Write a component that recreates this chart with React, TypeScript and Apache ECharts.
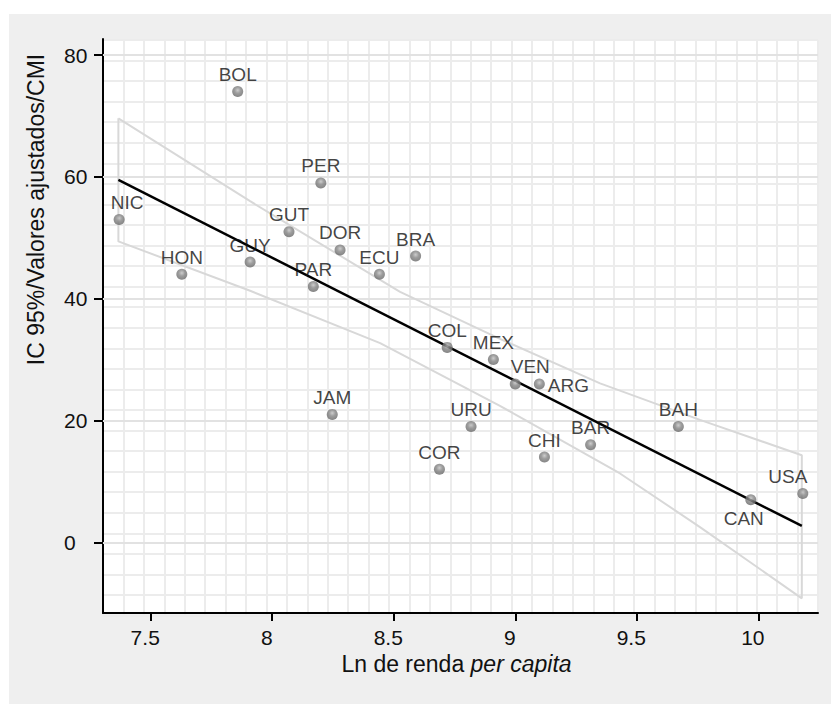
import React, { useEffect, useRef } from 'react';
import * as echarts from 'echarts';

// ---- data ----
const countries = ['BOL', 'PER', 'NIC', 'GUT', 'DOR', 'BRA', 'GUY', 'HON', 'ECU', 'PAR', 'COL', 'MEX', 'VEN', 'ARG', 'URU', 'BAH', 'BAR', 'CHI', 'COR', 'JAM', 'CAN', 'USA'];
const lnIncome = [7.858, 8.2, 7.37, 8.069, 8.279, 8.59, 7.909, 7.628, 8.441, 8.169, 8.72, 8.91, 9.0, 9.099, 8.818, 9.671, 9.31, 9.12, 8.688, 8.247, 9.969, 10.183];
const cmi = [74, 59, 53, 51, 48, 47, 46, 44, 44, 42, 32, 30, 26, 26, 19, 19, 16, 14, 12, 21, 7, 8];

const fitX = [7.367, 10.179];
const fitY = [59.5, 2.68];

const ciUpperX = [7.367, 7.909, 8.526, 8.937, 9.349, 9.76, 10.179];
const ciUpper = [69.6, 56.0, 41.1, 33.4, 26.1, 20.1, 14.3];
const ciLowerX = [7.367, 7.909, 8.444, 8.937, 9.431, 9.76, 10.179];
const ciLower = [49.4, 41.3, 32.7, 22.4, 11.3, 2.5, -9.2];

const xTicks = [7.5, 8, 8.5, 9, 9.5, 10];
const yTicks = [0, 20, 40, 60, 80];
const xRange = [7.3037, 10.2456];
const yRange = [-11.61, 82.63];

const xTitleA = 'Ln de renda ';
const xTitleB = 'per capita';
const yTitle = 'IC 95%/Valores ajustados/CMI';

// label placement tweaks (style only)
const labelTweaks: Record<string, any> = {
  NIC: { offset: [8, 0] },
  VEN: { offset: [15, 0] },
  ARG: { position: 'right', distance: 3, offset: [0, 2] },
  USA: { offset: [-15, 0] },
  CAN: { position: 'bottom', distance: 4, offset: [-7, 0] },
};

const FONT = 'Liberation Sans, Arial, sans-serif';

export default function App() {
  const ref = useRef<HTMLDivElement>(null);
  useEffect(() => {
    const chart = echarts.init(ref.current!, null, { renderer: 'svg' });

    const upper = ciUpperX.map((x, i) => [x, ciUpper[i]]);
    const lower = ciLowerX.map((x, i) => [x, ciLower[i]]).reverse();
    const ciPoly = [...upper, ...lower, upper[0]];

    const dotColor = {
      type: 'radial', x: 0.5, y: 0.38, r: 0.62,
      colorStops: [
        { offset: 0, color: '#c0c0c0' },
        { offset: 0.45, color: '#858585' },
        { offset: 1, color: '#666666' },
      ],
    };

    const option: any = {
      animation: false,
      grid: [
        { left: 94, top: 25, width: 715, height: 574, show: true, backgroundColor: '#ffffff', borderWidth: 0 },
        { left: 94, top: 25.9, width: 715, height: 575.7, show: false },
      ],
      xAxis: [
        {
          gridIndex: 0, type: 'value', min: xRange[0], max: xRange[1],
          axisLine: { show: true, onZero: false, lineStyle: { color: '#000', width: 2 } },
          axisTick: { show: true, length: 8, customValues: xTicks, lineStyle: { color: '#000', width: 2 } },
          axisLabel: { customValues: xTicks, fontSize: 21, color: '#111', fontFamily: FONT, margin: 14, padding: [0, 11, 0, 0] },
          splitLine: { show: false },
        },
        {
          gridIndex: 1, type: 'value', min: 0, max: 35, interval: 1,
          axisLine: { show: false }, axisTick: { show: false }, axisLabel: { show: false },
          splitLine: { show: true, lineStyle: { color: '#ececec', width: 2 } },
        },
      ],
      yAxis: [
        {
          gridIndex: 0, type: 'value', min: yRange[0], max: yRange[1],
          axisLine: { show: true, onZero: false, lineStyle: { color: '#000', width: 2 } },
          axisTick: { show: true, length: 9, customValues: yTicks, lineStyle: { color: '#000', width: 2 } },
          axisLabel: { customValues: yTicks, fontSize: 21, color: '#111', fontFamily: FONT, margin: 39, align: 'left' },
          splitLine: { show: false },
        },
        {
          gridIndex: 1, type: 'value', min: 0, max: 28, interval: 1,
          axisLine: { show: false }, axisTick: { show: false }, axisLabel: { show: false },
          splitLine: { show: true, lineStyle: { color: '#ececec', width: 2 } },
        },
      ],
      graphic: [
        {
          type: 'text', x: 27, y: 195.5, rotation: Math.PI / 2,
          style: { text: yTitle, fontSize: 23, fontFamily: FONT, fill: '#111', align: 'center', verticalAlign: 'middle' },
        },
        {
          type: 'text', x: 447.5, y: 650,
          style: {
            text: `{a|${xTitleA}}{b|${xTitleB}}`, align: 'center', verticalAlign: 'middle',
            rich: {
              a: { fontSize: 23, fontFamily: FONT, fill: '#111' },
              b: { fontSize: 23, fontFamily: FONT, fill: '#111', fontStyle: 'italic' },
            },
          },
        },
      ],
      series: [
        {
          type: 'line', xAxisIndex: 0, yAxisIndex: 0, z: 2,
          data: ciPoly, showSymbol: false, symbol: 'none', silent: true,
          lineStyle: { color: '#d8d8d8', width: 2 },
          markLine: {
            z: 1, silent: true, symbol: ['none', 'none'], label: { show: false },
            lineStyle: { color: '#e2e2e2', width: 2, type: 'solid' },
            data: yTicks.map((v) => ({ yAxis: v })),
          },
        },
        {
          type: 'line', xAxisIndex: 0, yAxisIndex: 0, z: 3,
          data: fitX.map((x, i) => [x, fitY[i]]), showSymbol: false, symbol: 'none', silent: true,
          lineStyle: { color: '#000', width: 2.5 },
        },
        {
          type: 'scatter', xAxisIndex: 0, yAxisIndex: 0, z: 4,
          symbolSize: 11,
          itemStyle: { color: dotColor },
          label: {
            show: true, position: 'top', distance: 2, formatter: '{b}',
            fontSize: 19, color: '#111', fontFamily: FONT,
          },
          data: countries.map((c, i) => ({
            name: c,
            value: [lnIncome[i], cmi[i]],
            ...(labelTweaks[c] ? { label: labelTweaks[c] } : {}),
          })),
        },
      ],
    };
    chart.setOption(option);
    return () => chart.dispose();
  }, []);

  return (
    <div style={{ position: 'absolute', left: 0, top: 0, width: 831, height: 704, background: '#ffffff' }}>
      <div ref={ref} style={{ position: 'absolute', left: 9, top: 14, width: 822, height: 690, background: '#efefef' }} />
    </div>
  );
}
